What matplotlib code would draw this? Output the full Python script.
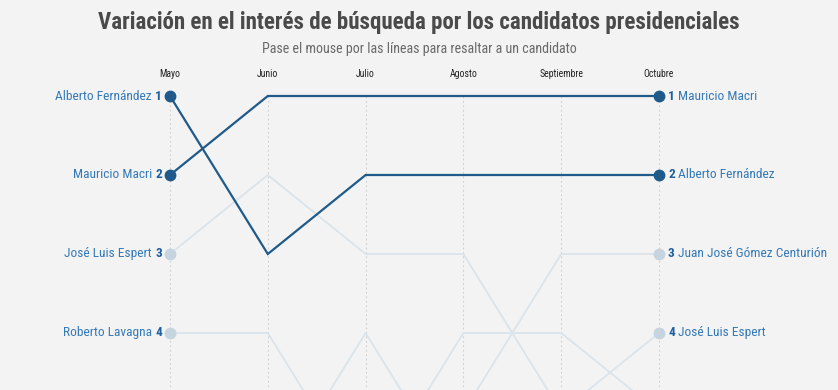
import matplotlib

matplotlib.use("Agg")
import matplotlib.pyplot as plt
from matplotlib import font_manager

# pick a condensed face if one is installed
names = {f.name for f in font_manager.fontManager.ttflist}
FONT = "Roboto"
for cand in ("Roboto Condensed", "Liberation Sans Narrow"):
    if cand in names:
        FONT = cand
        break
plt.rcParams["font.family"] = [FONT, "DejaVu Sans"]

months = ["Mayo", "Junio", "Julio", "Agosto", "Septiembre", "Octubre"]
candidates = ["Alberto Fernández", "Mauricio Macri", "José Luis Espert",
              "Roberto Lavagna", "Juan José Gómez Centurión", "Nicolás del Caño"]
ranks = {
    "Alberto Fernández":         [1, 3, 2, 2, 2, 2],
    "Mauricio Macri":            [2, 1, 1, 1, 1, 1],
    "José Luis Espert":          [3, 2, 3, 3, 5, 4],
    "Roberto Lavagna":           [4, 4, 6, 4, 4, 5],
    "Juan José Gómez Centurión": [6, 5, 5, 5, 3, 3],
    "Nicolás del Caño":          [5, 6, 4, 6, 6, 6],
}
highlight = ["Alberto Fernández", "Mauricio Macri"]

BG = "#f3f3f3"
C_DARK = "#1f5a8a"
C_LIGHT = "#dbe4eb"
C_LIGHT_DOT = "#c6d4df"
C_NAME = "#3479b8"
C_NUM = "#1f5f9e"

W, H = 838, 390
fig = plt.figure(figsize=(W / 100, H / 100), dpi=100, facecolor=BG)
ax = fig.add_axes([0, 0, 1, 1])
ax.set_facecolor(BG)

# pixel mapping: Mayo at x=170, Octubre at x=659; rank 1 at y=96, rank 4 at y=333
px_x = (659 - 170) / 5
px_y = (333 - 96) / 3
ax.set_xlim(-170 / px_x, 5 + (W - 659) / px_x)
ax.set_ylim(4 + (H - 333) / px_y, 1 - 96 / px_y)
ax.axis("off")

xs = list(range(len(months)))
for x in xs:
    ax.plot([x, x], [1, 8], color="#cfcfcf", lw=0.8, ls=(0, (1.5, 2.5)), zorder=0)
    ax.text(x, 1 - 22 / px_y, months[x], ha="center", va="center",
            fontsize=7, color="#222222")

order = [c for c in candidates if c not in highlight] + highlight
for name in order:
    r = ranks[name]
    hi = name in highlight
    col = C_DARK if hi else C_LIGHT
    ax.plot(xs, r, color=col, lw=1.6 if hi else 1.3, zorder=3 if hi else 1,
            solid_joinstyle="miter")
    dot = C_DARK if hi else C_LIGHT_DOT
    ax.plot([xs[0], xs[-1]], [r[0], r[-1]], "o", ms=7.5, color=dot,
            zorder=4 if hi else 2)

    # left labels: "Name N"
    ax.annotate(str(r[0]), (xs[0], r[0]), xytext=(-8, 0), textcoords="offset pixels",
                ha="right", va="center", fontsize=9.6, fontweight="bold", color=C_NUM)
    ax.annotate(name, (xs[0], r[0]), xytext=(-18, 0), textcoords="offset pixels",
                ha="right", va="center", fontsize=9.6, color=C_NAME)
    # right labels: "N Name"
    ax.annotate(str(r[-1]), (xs[-1], r[-1]), xytext=(9, 0), textcoords="offset pixels",
                ha="left", va="center", fontsize=9.6, fontweight="bold", color=C_NUM)
    ax.annotate(name, (xs[-1], r[-1]), xytext=(19, 0), textcoords="offset pixels",
                ha="left", va="center", fontsize=9.6, color=C_NAME)

fig.text(0.5, 1 - 22 / H, "Variación en el interés de búsqueda por los candidatos presidenciales",
         ha="center", va="center", fontsize=16.5, fontweight="bold", color="#4a4a4a")
fig.text(0.5, 1 - 49 / H, "Pase el mouse por las líneas para resaltar a un candidato",
         ha="center", va="center", fontsize=10.1, color="#6a6a6a")

fig.savefig("out.png", dpi=100, facecolor=BG)
